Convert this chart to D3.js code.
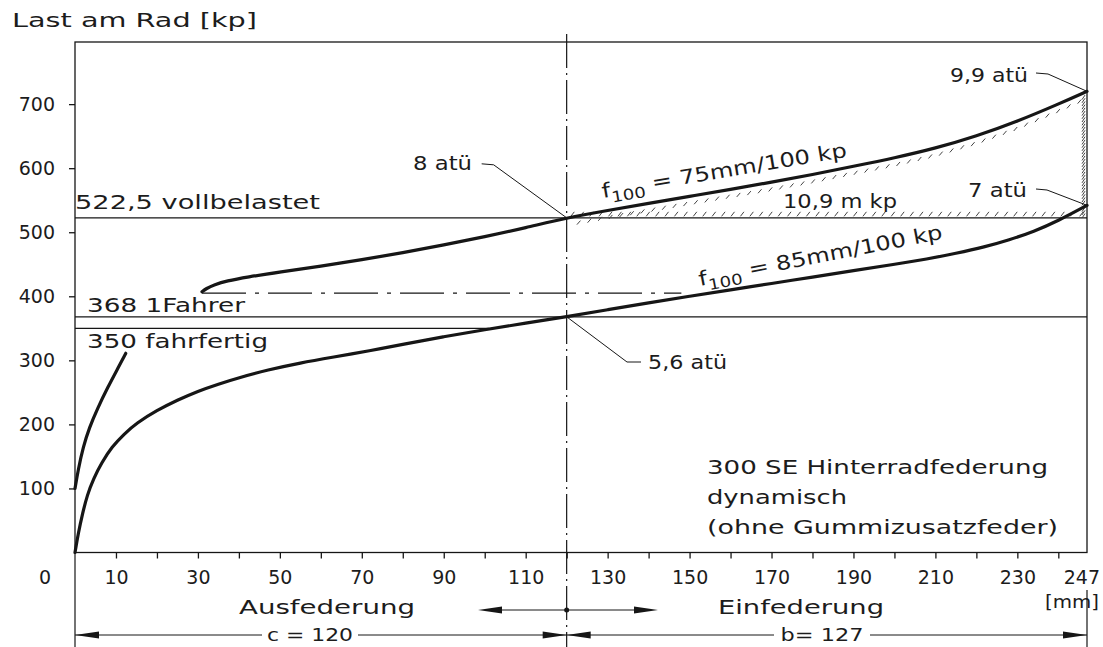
<!DOCTYPE html>
<html>
<head>
<meta charset="utf-8">
<script src="https://cdn.jsdelivr.net/npm/d3@7"></script>
<style>
body{margin:0;background:#fff}
text{font-family:"DejaVu Sans",sans-serif;fill:#1c1c1c}
</style>
</head>
<body>
<div class="chart"></div>
<script>
// Federkennlinie 300 SE Hinterrad, Last am Rad ueber Federweg
const xTicks = d3.range(10, 250, 10)
const xLabels = [10, 30, 50, 70, 90, 110, 130, 150, 170, 190, 210, 230, 247]
const yTicks = [100, 200, 300, 400, 500, 600, 700]

// 8 atue, vollbelastet
const upperX = [31, 32, 34, 37, 42, 50, 60, 70, 80, 90, 100, 110, 120, 130, 140, 150, 160, 170, 180, 190, 200, 210, 220, 230, 240, 247]
const upperY = [407, 412, 418, 424, 430, 438, 447, 457, 468, 480, 493, 507, 522.5, 534, 545, 556, 567, 578, 590, 603, 616, 631, 650, 673, 700, 720]
// 5,6 atue, 1 Fahrer
const lowerX = [0, 0.8, 1.8, 3, 4.5, 6.5, 9, 12, 15, 20, 25, 30, 35, 40, 47, 55, 63, 72, 80, 90, 100, 110, 120, 130, 140, 150, 160, 170, 180, 190, 200, 208, 215, 222, 228, 234, 240, 247]
const lowerY = [0, 30, 60, 90, 115, 140, 165, 185, 202, 222, 238, 252, 263, 273, 285, 296, 305, 315, 325, 337, 348, 358, 368, 379, 390, 400, 410, 420, 430, 440, 450, 458, 467, 477, 488, 501, 518, 542]
// kurzer Ast links
const leftX = [0, 0.8, 2, 3.5, 5.5, 8, 10.5, 12.4]
const leftY = [100, 130, 165, 195, 225, 258, 288, 311]

const loadLines = [522.5, 368, 350]
const loadLabels = ['522,5 vollbelastet', '368 1Fahrer', '350 fahrfertig']
const dashLoad = 405
const midTravel = 120
const maxTravel = 247

const W = 1103, H = 647
const svg = d3.select('.chart').append('svg')
    .attr('width', W).attr('height', H)

let x = d3.scaleLinear().domain([0, maxTravel]).range([75, 1087])
let y = d3.scaleLinear().domain([0, 797]).range([552.5, 42])

const ink = '#161616'

function label(px, py, txt, opt = {}) {
    let t = svg.append('text')
        .attr('x', px).attr('y', py)
        .attr('dy', '0.35em')
        .attr('font-size', opt.size || 18)
        .attr('text-anchor', opt.anchor || 'start')
        .text(txt)
    if (opt.width) t.attr('textLength', opt.width).attr('lengthAdjust', 'spacingAndGlyphs')
    return t
}

function arrow(tx, ty, dir, len = 24, hw = 3.5) {
    svg.append('path')
        .attr('d', `M${tx},${ty}L${tx - dir * len},${ty - hw}L${tx - dir * len},${ty + hw}Z`)
        .attr('fill', ink)
}

// frame
svg.append('rect')
    .attr('x', x(0)).attr('y', y(797))
    .attr('width', x(maxTravel) - x(0)).attr('height', y(0) - y(797))
    .attr('fill', 'none').attr('stroke', ink).attr('stroke-width', 1.3)

// axes
let yAxis = svg.append('g')
    .attr('transform', `translate(${x(0)},0)`)
    .call(d3.axisLeft(y).tickValues(yTicks).tickSize(6).tickPadding(14))
let xAxis = svg.append('g')
    .attr('transform', `translate(0,${y(0)})`)
    .call(d3.axisBottom(x).tickValues(xTicks).tickSize(6).tickPadding(14)
        .tickFormat(d => xLabels.includes(d) ? d : ''))
svg.selectAll('.domain').remove()
svg.selectAll('.tick line').attr('stroke', ink).attr('stroke-width', 1.3)
svg.selectAll('.tick text').attr('font-size', 19).attr('font-family', '"DejaVu Sans",sans-serif').attr('fill', ink)
xAxis.selectAll('.tick text').attr('dy', '0.35em').attr('y', 25)
xAxis.append('text')
    .attr('x', 1100).attr('y', 25).attr('dy', '0.35em')
    .attr('text-anchor', 'end').attr('font-size', 19).attr('fill', ink)
    .text(maxTravel)
label(45, y(0) + 25, '0', {size: 19, anchor: 'middle'})

label(12, 20, 'Last am Rad [kp]', {size: 20, width: 245})
label(1072, 602, '[mm]', {size: 18, anchor: 'middle', width: 54})

// reference load lines
loadLines.forEach((v, i) => {
    let x2 = v == 350 ? x(101) : x(maxTravel)
    svg.append('line')
        .attr('x1', x(0)).attr('x2', x2)
        .attr('y1', y(v)).attr('y2', y(v))
        .attr('stroke', ink).attr('stroke-width', 1.2)
})
label(x(0), y(522.5) - 15, loadLabels[0], {size: 19, width: 245})
label(x(0) + 12, y(368) - 11, loadLabels[1], {size: 19, width: 158})
label(x(0) + 12, y(350) + 13, loadLabels[2], {size: 19, width: 181})

// dash-dot load line
svg.append('line')
    .attr('x1', x(31)).attr('x2', x(148))
    .attr('y1', y(dashLoad)).attr('y2', y(dashLoad))
    .attr('stroke', ink).attr('stroke-width', 1.1)
    .attr('stroke-dasharray', '44,9,4,9')

// centre line
svg.append('line')
    .attr('x1', x(midTravel)).attr('x2', x(midTravel))
    .attr('y1', y(797) - 8).attr('y2', H)
    .attr('stroke', ink).attr('stroke-width', 1.2)
    .attr('stroke-dasharray', '34,5,2,5')

// hatched area (work 10,9 m kp)
let upperAt = d3.scaleLinear().domain(upperX).range(upperY)
let hatch = svg.append('g').attr('stroke', '#444').attr('stroke-width', 1)
d3.range(121.5, 246, 2.3).forEach(m => {
    let px = x(m), py = y(522.5) - 1.5
    hatch.append('line').attr('x1', px - 2).attr('y1', py).attr('x2', px + 1.5).attr('y2', py - 4.5)
})
d3.range(123, 246, 2.6).forEach(m => {
    let px = x(m), py = y(upperAt(m)) + 5
    hatch.append('line').attr('x1', px - 2).attr('y1', py + 4).attr('x2', px + 1.5).attr('y2', py)
})
d3.range(526, 716, 5).forEach(v => {
    let px = x(maxTravel) - 2, py = y(v)
    hatch.append('line').attr('x1', px - 3).attr('y1', py + 2.5).attr('x2', px).attr('y2', py - 2)
})

// curves
let line = d3.line()
    .x(d => x(d[0]))
    .y(d => y(d[1]))
    .curve(d3.curveBasis)

const curves = [
    d3.zip(upperX, upperY),
    d3.zip(lowerX, lowerY),
    d3.zip(leftX, leftY)
]
curves.forEach(c => {
    svg.append('path')
        .datum(c)
        .attr('d', line)
        .attr('fill', 'none')
        .attr('stroke', ink)
        .attr('stroke-width', 3.2)
        .attr('stroke-linecap', 'round')
})

// leaders and pressure labels
function leader(pts) {
    svg.append('path')
        .attr('d', d3.line()(pts))
        .attr('fill', 'none').attr('stroke', ink).attr('stroke-width', 1)
}
leader([[x(120) - 85, y(522.5) - 54], [x(120) - 73, y(522.5) - 53], [x(120), y(522.5)]])
label(472, 163, '8 atü', {size: 19, anchor: 'end', width: 59})
leader([[1036, 73], [1048, 74], [x(maxTravel), y(720)]])
label(1028, 75, '9,9 atü', {size: 19, anchor: 'end', width: 78})
leader([[1036, 189], [1047, 190], [x(maxTravel), y(542)]])
label(1027, 190, '7 atü', {size: 19, anchor: 'end', width: 59})
leader([[x(120), y(368)], [627, 362], [641, 362]])
label(648, 362, '5,6 atü', {size: 19, width: 79})
label(783, 201, '10,9 m kp', {size: 19, width: 114})

// rate labels along the curves
function rateLabel(px, py, angle, rate) {
    let t = svg.append('text')
        .attr('transform', `translate(${px},${py}) rotate(${angle})`)
        .attr('font-size', 20)
        .attr('textLength', 248).attr('lengthAdjust', 'spacingAndGlyphs')
    t.append('tspan').text('f')
    t.append('tspan').attr('dy', 6).attr('font-size', 15).text('100')
    t.append('tspan').attr('dy', -6).text(` = ${rate}mm/100 kp`)
}
rateLabel(603, 198, -9.6, 75)
rateLabel(700, 286, -11, 85)

// note
label(707, 467, '300 SE  Hinterradfederung', {size: 19, width: 341})
label(707, 497, 'dynamisch', {size: 19, width: 140})
label(707, 527, '(ohne Gummizusatzfeder)', {size: 19, width: 351})

// travel direction arrows
const ay = 610
svg.append('line').attr('x1', 500).attr('x2', 634).attr('y1', ay).attr('y2', ay)
    .attr('stroke', ink).attr('stroke-width', 1)
arrow(478, ay, -1)
arrow(658, ay, 1)
svg.append('circle').attr('cx', x(midTravel)).attr('cy', ay).attr('r', 2.5).attr('fill', ink)
label(327, 607, 'Ausfederung', {size: 20, anchor: 'middle', width: 176})
label(801, 607, 'Einfederung', {size: 20, anchor: 'middle', width: 166})

// dimension lines c and b
const dy = 635
svg.append('line').attr('x1', x(0)).attr('x2', x(maxTravel)).attr('y1', dy).attr('y2', dy)
    .attr('stroke', ink).attr('stroke-width', 1)
svg.append('line').attr('x1', x(0)).attr('x2', x(0)).attr('y1', y(0)).attr('y2', H)
    .attr('stroke', ink).attr('stroke-width', 1.2)
svg.append('line').attr('x1', x(maxTravel)).attr('x2', x(maxTravel)).attr('y1', 590).attr('y2', H)
    .attr('stroke', ink).attr('stroke-width', 1.2)
arrow(x(0), dy, -1)
arrow(x(midTravel), dy, 1)
arrow(x(midTravel), dy, -1)
arrow(x(maxTravel), dy, 1)
svg.append('rect').attr('x', 262).attr('y', dy - 8).attr('width', 96).attr('height', 16).attr('fill', '#fff')
svg.append('rect').attr('x', 774).attr('y', dy - 8).attr('width', 96).attr('height', 16).attr('fill', '#fff')
label(310, dy, 'c = 120', {size: 18, anchor: 'middle', width: 86})
label(822, dy, 'b= 127', {size: 18, anchor: 'middle', width: 83})
</script>
</body>
</html>
